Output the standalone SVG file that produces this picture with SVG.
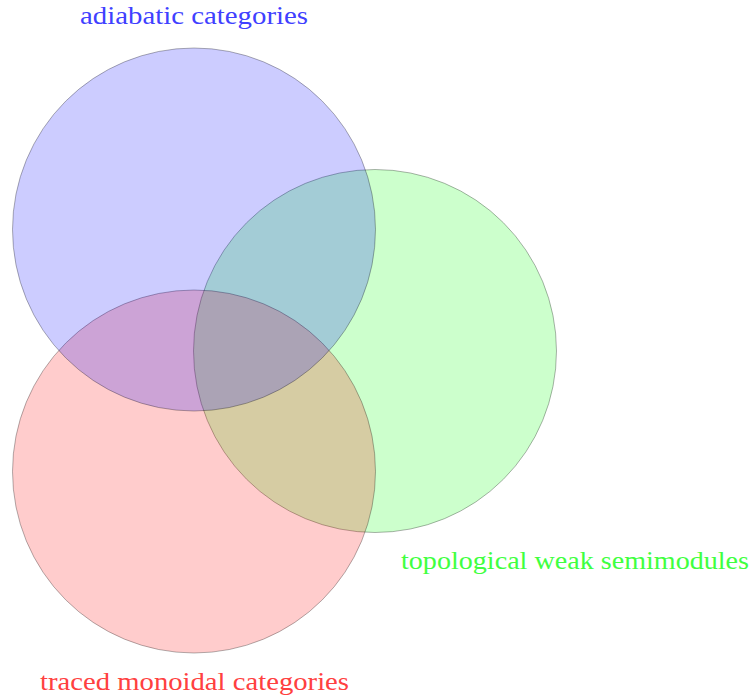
<svg xmlns="http://www.w3.org/2000/svg" width="752" height="696" viewBox="0 0 752 696">
<style>
.c{stroke:#000;stroke-opacity:0.3;stroke-width:1;fill-opacity:0.2}
.t{font-family:"Liberation Serif","DejaVu Serif",serif;font-size:25px}
</style>
<rect width="752" height="696" fill="#fff"/>
<g id="green">
<circle class="c" cx="375" cy="351" r="181.5" fill="#00ff00"/>
<text class="t" x="401" y="569" fill="#40ff40" textLength="348" lengthAdjust="spacingAndGlyphs">topological weak semimodules</text>
</g>
<g id="red">
<circle class="c" cx="194" cy="471.5" r="181.5" fill="#ff0000"/>
<text class="t" x="40" y="690" fill="#ff4040" textLength="309" lengthAdjust="spacingAndGlyphs">traced monoidal categories</text>
</g>
<g id="blue">
<circle class="c" cx="194" cy="229.5" r="181.5" fill="#0000ff"/>
<text class="t" x="80" y="24" fill="#4040ff" textLength="228" lengthAdjust="spacingAndGlyphs">adiabatic categories</text>
</g>
<g id="connectors"/>
</svg>
